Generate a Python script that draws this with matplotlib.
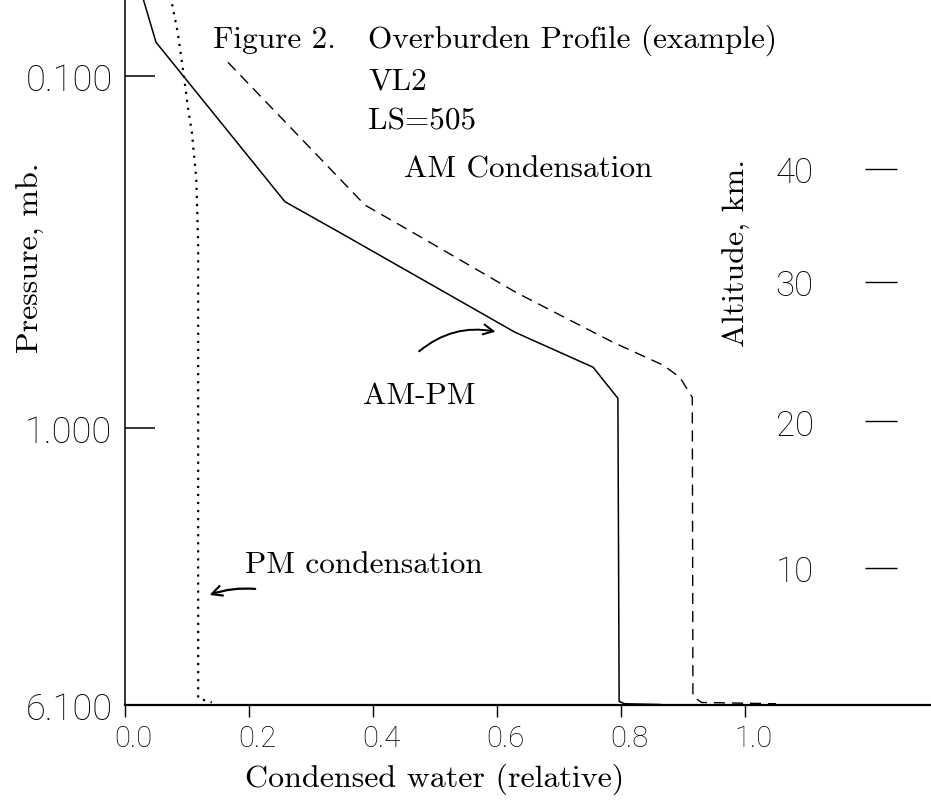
import matplotlib
matplotlib.use("Agg")
import matplotlib.pyplot as plt
from matplotlib.ticker import NullLocator
from matplotlib.transforms import ScaledTranslation

plt.rcParams['lines.scale_dashes'] = False

# condensed water profiles (relative amount vs pressure, mb)
am_pm_x = [0.029, 0.050, 0.258, 0.347, 0.629, 0.755, 0.795, 0.797, 0.806, 0.863]
am_pm_p = [0.060, 0.080, 0.227, 0.278, 0.533, 0.670, 0.821, 5.96, 6.05, 6.08]

pm_x = [0.076, 0.085, 0.095, 0.102, 0.108, 0.115, 0.118, 0.118, 0.14]
pm_p = [0.0624, 0.075, 0.100, 0.124, 0.145, 0.196, 0.297, 5.84, 6.0]

am_x = [0.166, 0.387, 0.468, 0.632, 0.787, 0.868, 0.895, 0.915, 0.916, 0.93, 1.05]
am_p = [0.0912, 0.232, 0.280, 0.412, 0.569, 0.661, 0.716, 0.816, 5.77, 6.0, 6.05]

x_ticks = [0.0, 0.2, 0.4, 0.6, 0.8, 1.0]
x_labels = ['0.0', '0.2', '0.4', '0.6', '0.8', '1.0']
p_ticks = [0.1, 1.0, 6.1]
p_labels = ['0.100', '1.000', '6.100']

# altitude marks and the pressure they sit at
alt_km = ['40', '30', '20', '10']
alt_p = [0.183, 0.384, 0.955, 2.49]

W, H = 931, 803
fig = plt.figure(figsize=(W / 100, H / 100), dpi=100)
ax = fig.add_axes([125 / W, 97 / H, 806 / W, 706 / H])


def px(x, y):
    return x / W, 1 - y / H


serif = 'cmr10'
tickfont = dict(family='Roboto', weight='light')

ax.plot(am_pm_x, am_pm_p, color='black', lw=1.1)
ax.plot(pm_x, pm_p, color='black', lw=1.6, dashes=(1.6, 4.2))
ax.plot(am_x, am_p, color='black', lw=1.0, dashes=(8, 5))

ax.set_yscale('log')
ax.set_ylim(6.1, 0.0603)
ax.set_xlim(0, 1.3)

ax.spines['top'].set_visible(False)
ax.spines['right'].set_visible(False)
ax.spines['left'].set_linewidth(1.1)
ax.spines['bottom'].set_linewidth(1.6)

ax.set_yticks(p_ticks)
ax.set_yticklabels(p_labels, fontsize=26, **tickfont)
ax.yaxis.set_minor_locator(NullLocator())
ax.tick_params(axis='y', direction='in', length=21.5, width=1.1, pad=9)

ax.set_xticks(x_ticks)
ax.set_xticklabels(x_labels, fontsize=21, **tickfont)
ax.tick_params(axis='x', direction='out', length=8.5, width=1.0, pad=5)
for lab in ax.get_xticklabels():
    lab.set_transform(lab.get_transform() + ScaledTranslation(0.08, 0, fig.dpi_scale_trans))

# altitude scale drawn as a second y axis inside the plot
ax2 = ax.twinx()
ax2.set_yscale('log')
ax2.set_ylim(ax.get_ylim())
for s in ax2.spines.values():
    s.set_visible(False)
ax2.spines['left'].set_position(('axes', (865 - 125) / 806))
ax2.yaxis.set_ticks_position('left')
ax2.set_yticks(alt_p)
ax2.set_yticklabels(alt_km, fontsize=25, **tickfont)
ax2.yaxis.set_minor_locator(NullLocator())
ax2.tick_params(axis='y', direction='in', length=23, width=1.0, pad=37,
                left=True, right=False, labelleft=True, labelright=False)

# axis titles
fig.text(*px(31, 258), 'Pressure, mb.', family=serif, fontsize=23,
         rotation=90, ha='center', va='center')
fig.text(*px(737, 253), 'Altitude, km.', family=serif, fontsize=23,
         rotation=90, ha='center', va='center')
fig.text(*px(435, 779), 'Condensed water (relative)', family=serif,
         fontsize=23, ha='center', va='center')

# header block
fig.text(*px(213, 48), 'Figure 2.', family=serif, fontsize=22.5, va='baseline')
fig.text(*px(368, 48), 'Overburden Profile (example)', family=serif,
         fontsize=22.5, va='baseline')
fig.text(*px(368, 90), 'VL2', family=serif, fontsize=22.5, va='baseline')
fig.text(*px(368, 129), 'LS=505', family=serif, fontsize=22.5, va='baseline')
fig.text(*px(404, 177), 'AM Condensation', family=serif, fontsize=22.5,
         va='baseline')

# curve labels with pointer arrows
fig.text(*px(363, 404), 'AM-PM', family=serif, fontsize=22.5, va='baseline')
fig.text(*px(245, 573), 'PM condensation', family=serif, fontsize=22.5,
         va='baseline')

ax.annotate('', xy=(0.602, 0.533), xytext=(0.471, 0.611),
            arrowprops=dict(arrowstyle='->', lw=1.4, color='black',
                            connectionstyle='arc3,rad=-0.25',
                            mutation_scale=18))
ax.annotate('', xy=(0.132, 2.99), xytext=(0.2145, 2.86),
            arrowprops=dict(arrowstyle='->', lw=1.6, color='black',
                            connectionstyle='arc3,rad=0.12',
                            mutation_scale=18))

fig.savefig('out.png', dpi=100, facecolor='white')
